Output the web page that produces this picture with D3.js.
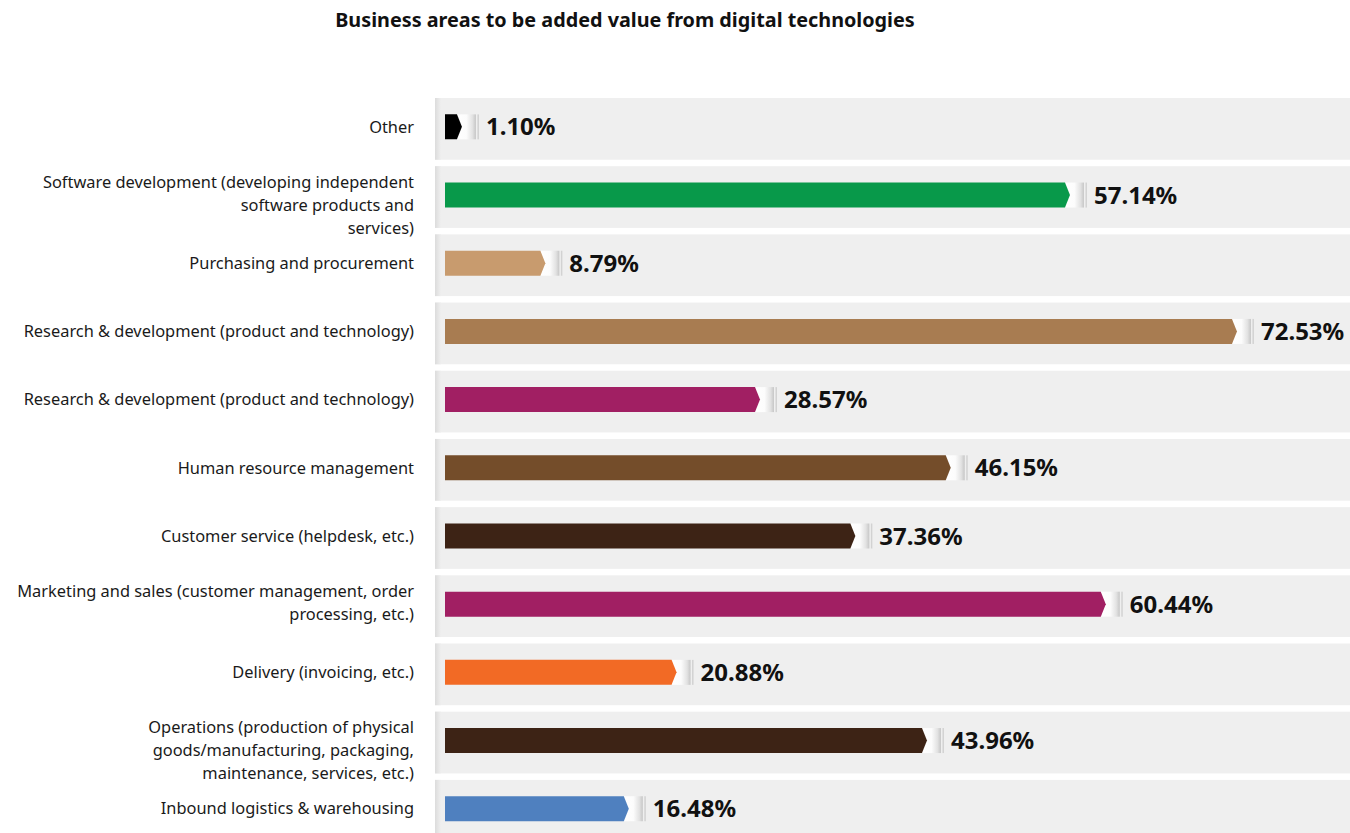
<!DOCTYPE html>
<html>
<head>
<meta charset="utf-8">
<script src="https://cdn.jsdelivr.net/npm/d3@7"></script>
<style>
    html, body { margin: 0; padding: 0; background: #fff; }
    svg { display: block; font-family: 'Noto Sans', 'Lato', sans-serif; }
</style>
</head>
<body>
<div id="chart"></div>
<script>
// Chart data (top to bottom)
const categories = [
    'Other',
    'Software development (developing independent|software products and|services)',
    'Purchasing and procurement',
    'Research & development (product and technology)',
    'Research & development (product and technology)',
    'Human resource management',
    'Customer service (helpdesk, etc.)',
    'Marketing and sales (customer management, order|processing, etc.)',
    'Delivery (invoicing, etc.)',
    'Operations (production of physical|goods/manufacturing, packaging,|maintenance, services, etc.)',
    'Inbound logistics & warehousing'
];
const values = [1.10, 57.14, 8.79, 72.53, 28.57, 46.15, 37.36, 60.44, 20.88, 43.96, 16.48];
const barColors = [
    '#000000', '#08994a', '#c89b6e', '#a87c51', '#a11f63', '#744d2a',
    '#3d2315', '#a11f63', '#f26a25', '#3d2315', '#4f80bf'
];
const title = 'Business areas to be added value from digital technologies';

const width = 1350, height = 833;
const panelLeft = 435, barLeft = 445;
const capW = 22;

const svg = d3.select('#chart').append('svg')
    .attr('width', width)
    .attr('height', height);

const defs = svg.append('defs');
const capGrad = defs.append('linearGradient').attr('id', 'cap-grad')
    .attr('x1', '0%').attr('x2', '100%').attr('y1', '0%').attr('y2', '0%');
capGrad.selectAll('stop')
    .data([[0, '#ffffff'], [0.5, '#fcfcfc'], [0.82, '#e2e2e2'], [1, '#c6c6c6']])
    .enter().append('stop')
    .attr('offset', d => d[0])
    .attr('stop-color', d => d[1]);

const shadow = defs.append('linearGradient').attr('id', 'edge-grad')
    .attr('x1', '0%').attr('x2', '100%');
shadow.append('stop').attr('offset', 0).attr('stop-color', '#dcdcdc');
shadow.append('stop').attr('offset', 1).attr('stop-color', '#efefef');

// Title
svg.append('text')
    .attr('x', 625)
    .attr('y', 27)
    .attr('text-anchor', 'middle')
    .style('font-size', '19.8px')
    .style('font-weight', '700')
    .style('fill', '#111')
    .text(title);

// Scales
const y = d3.scaleBand()
    .domain(d3.range(categories.length))
    .range([98, 98 + 67.6 * categories.length])
    .paddingInner(0.095)
    .paddingOuter(0)
    .align(0);

const x = d3.scaleLinear()
    .domain([0, 100])
    .range([barLeft, barLeft + 1085]);

const barH = 25;

const rows = svg.append('g').selectAll('g')
    .data(values.map((v, i) => ({ v, i, label: categories[i], color: barColors[i] })))
    .enter().append('g');

// Grey row bands
rows.append('rect')
    .attr('x', panelLeft)
    .attr('y', d => y(d.i))
    .attr('width', width - panelLeft)
    .attr('height', y.bandwidth())
    .style('fill', '#efefef');

rows.append('rect')
    .attr('x', panelLeft)
    .attr('y', d => y(d.i))
    .attr('width', 6)
    .attr('height', y.bandwidth())
    .style('fill', 'url(#edge-grad)');

const barTop = d => y(d.i) + y.bandwidth() / 2 - barH / 2 - 2;

// White cylinder cap
rows.append('rect')
    .attr('x', d => x(d.v))
    .attr('y', barTop)
    .attr('width', capW - 3)
    .attr('height', barH)
    .style('fill', 'url(#cap-grad)');

rows.append('rect')
    .attr('x', d => x(d.v) + capW - 1.5)
    .attr('y', barTop)
    .attr('width', 1.5)
    .attr('height', barH)
    .style('fill', '#d2d2d2');

// Coloured bar with chevron tip
rows.append('path')
    .attr('d', d => {
        const t = barTop(d), e = x(d.v);
        return `M${barLeft},${t} L${e},${t} L${e + 5},${t + barH / 2} L${e},${t + barH} L${barLeft},${t + barH} Z`;
    })
    .style('fill', d => d.color);

// Value labels
rows.append('text')
    .attr('x', d => x(d.v) + capW + 7)
    .attr('y', d => barTop(d) + barH / 2)
    .attr('dy', '0.36em')
    .style('font-size', '24px')
    .style('font-weight', '700')
    .style('fill', '#111')
    .text(d => d.v.toFixed(2) + '%');

// Category labels (right aligned, wrapped lines)
const lineH = 23;
rows.append('text')
    .attr('text-anchor', 'end')
    .style('font-size', '16.4px')
    .style('fill', '#1a1a1a')
    .each(function(d) {
        const lines = d.label.split('|');
        const cy = barTop(d) + barH / 2;
        const first = lines.length === 1 ? cy : cy - 13;
        d3.select(this).selectAll('tspan')
            .data(lines)
            .enter().append('tspan')
            .attr('x', 414)
            .attr('y', (l, k) => first + k * lineH)
            .attr('dy', '0.35em')
            .text(l => l);
    });
</script>
</body>
</html>
